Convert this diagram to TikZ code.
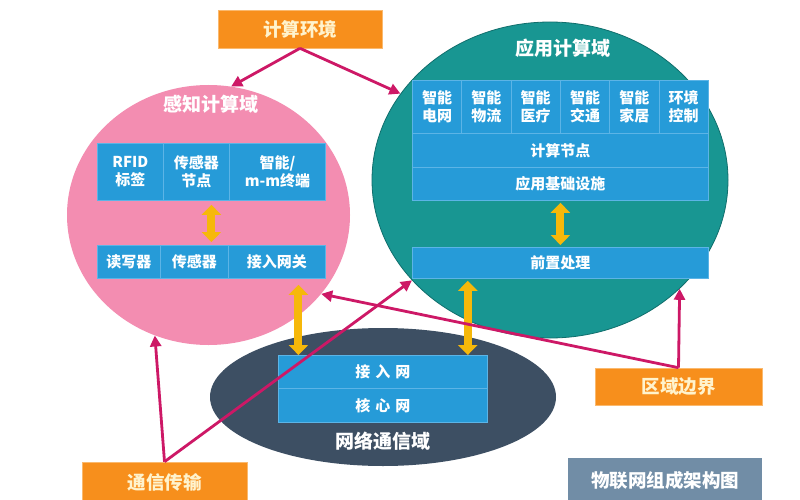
\documentclass[tikz,border=0pt]{standalone}
\usepackage{fontspec}
\setmainfont{Noto Sans CJK SC}
\usetikzlibrary{arrows.meta,calc,shapes.geometric}
\definecolor{pinkdom}{RGB}{243,141,177}
\definecolor{tealdom}{RGB}{24,150,146}
\definecolor{tealedge}{RGB}{16,110,108}
\definecolor{netdom}{RGB}{61,79,99}
\definecolor{cellblue}{RGB}{38,155,216}
\definecolor{cellline}{RGB}{92,180,230}
\definecolor{orangebox}{RGB}{247,143,28}
\definecolor{orangeedge}{RGB}{250,185,110}
\definecolor{creamtext}{RGB}{255,243,205}
\definecolor{slatebox}{RGB}{113,141,166}
\definecolor{magentaline}{RGB}{205,24,102}
\definecolor{yellowarrow}{RGB}{246,184,10}
\begin{document}
\begin{tikzpicture}[x=1pt,y=-1pt,
  domshape/.style={ellipse,inner sep=0pt},
  cell/.style={rectangle,fill=cellblue,draw=cellline,line width=0.8pt,text=white,
    inner sep=0pt,anchor=north west,align=center,
    font=\fontsize{15}{18}\selectfont\bfseries},
  dtitle/.style={text=white,font=\fontsize{19}{21}\selectfont\bfseries},
  obox/.style={rectangle,fill=orangebox,draw=orangeedge,line width=0.6pt,text=creamtext,
    inner sep=0pt,font=\fontsize{18.5}{20}\selectfont\bfseries},
  yarrow/.style={draw=yellowarrow,line width=8pt,
    {Triangle[width=19pt,length=10pt]}-{Triangle[width=19pt,length=10pt]}},
  marrow/.style={draw=magentaline,line width=2.8pt,
    -{Triangle[width=11pt,length=11pt]}}]
\useasboundingbox (0,0) rectangle (800,500);
\fill[white] (0,0) rectangle (800,500);

% domains
\node[domshape,fill=pinkdom,minimum width=283pt,minimum height=260pt] (pink) at (208.5,215) {};
\node[domshape,fill=netdom,minimum width=346pt,minimum height=138pt] (net) at (383,397) {};
\node[domshape,fill=tealdom,draw=tealedge,line width=0.8pt,minimum width=356pt,minimum height=316pt] (teal) at (550,180) {};

\node[dtitle] (pinktitle) at (211,104) {感知计算域};
\node[dtitle] (tealtitle) at (563,48) {应用计算域};
\node[dtitle] (nettitle) at (383,441) {网络通信域};

% perception domain cells
\node[cell,minimum width=66pt,minimum height=57pt] (u1) at (97,143) {RFID\\标签};
\node[cell,minimum width=66pt,minimum height=57pt] (u2) at (163,143) {传感器\\节点};
\node[cell,minimum width=96pt,minimum height=57pt] (u3) at (229,143) {智能/\\m-m终端};
\node[cell,minimum width=63pt,minimum height=33pt] (l1) at (97,245) {读写器};
\node[cell,minimum width=68pt,minimum height=33pt] (l2) at (160,245) {传感器};
\node[cell,minimum width=97pt,minimum height=33pt] (l3) at (228,245) {接入网关};

% application domain cells
\node[cell,minimum width=49.33pt,minimum height=53pt] (a1) at (412,80) {智能\\电网};
\node[cell,minimum width=49.33pt,minimum height=53pt] (a2) at (461.33,80) {智能\\物流};
\node[cell,minimum width=49.33pt,minimum height=53pt] (a3) at (510.67,80) {智能\\医疗};
\node[cell,minimum width=49.33pt,minimum height=53pt] (a4) at (560,80) {智能\\交通};
\node[cell,minimum width=49.33pt,minimum height=53pt] (a5) at (609.33,80) {智能\\家居};
\node[cell,minimum width=49.33pt,minimum height=53pt] (a6) at (658.67,80) {环境\\控制};
\node[cell,minimum width=296pt,minimum height=34pt] (calc) at (412,133) {计算节点};
\node[cell,minimum width=296pt,minimum height=33pt] (infra) at (412,167) {应用基础设施};
\node[cell,minimum width=296pt,minimum height=31pt] (pre) at (412,247) {前置处理};

% network domain cells
\node[cell,minimum width=209pt,minimum height=33pt] (acc) at (278,355) {接\hspace{5pt}入\hspace{5pt}网};
\node[cell,minimum width=209pt,minimum height=34pt] (core) at (278,388) {核\hspace{5pt}心\hspace{5pt}网};

% yellow double arrows
\draw[yarrow] ($(u1.south west)!0.5!(u3.south east)+(0,4)$) coordinate (pa) -- ($(pa |- l1.north)+(0,-3)$);
\draw[yarrow] ($(infra.south)+(0,2)$) -- ($(pre.north)+(0,-2)$);
\draw[yarrow] ($(l3.south west)!0.72!(l3.south east)+(0,6)$) coordinate (la) -- (la |- acc.north);
\draw[yarrow] ($(acc.north east)+(-20,0)$) coordinate (ra) -- ($(ra |- pre.south)+(0,2)$);

% orange boxes
\node[obox,minimum width=164pt,minimum height=38pt] (env) at (300,29) {计算环境};
\node[obox,minimum width=167pt,minimum height=37pt] (zone) at (678.5,386.5) {区域边界};
\node[obox,minimum width=165pt,minimum height=40pt] (comm) at (164.5,482) {通信传输};
\node[rectangle,fill=slatebox,text=white,inner sep=0pt,minimum width=194pt,minimum height=44pt,
  font=\fontsize{18.5}{20}\selectfont\bfseries] (caption) at (665,480) {物联网组成架构图};

% magenta arrows
\draw[marrow] (env.south) -- (pink.80);
\draw[marrow] (env.south) -- (teal.150);
\draw[marrow] (zone.north) -- (teal.-40);
\draw[marrow] (zone.north) -- (pink.-35);
\draw[marrow] (comm.north) -- (pink.-114);
\draw[marrow] (comm.north) -- (teal.-144);
\end{tikzpicture}
\end{document}
